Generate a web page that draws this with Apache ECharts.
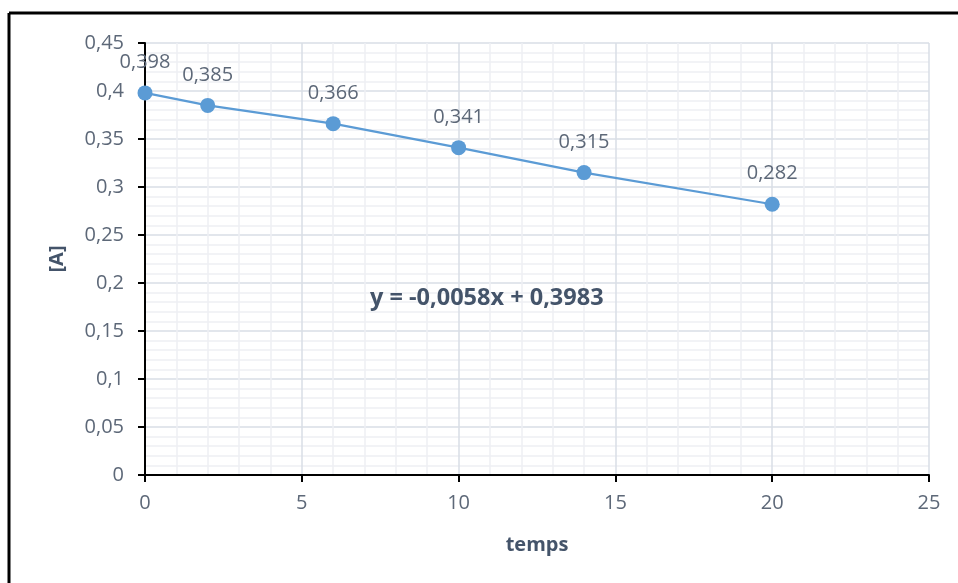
<!DOCTYPE html>
<html>
<head>
<meta charset="utf-8">
<script src="https://cdn.jsdelivr.net/npm/echarts@6/dist/echarts.min.js"></script>
<style>
html,body{margin:0;padding:0;background:#fff;}
#chart{width:958px;height:583px;}
</style>
</head>
<body>
<div id="chart"></div>
<script>
const xValues = [0, 2, 6, 10, 14, 20];
const yValues = [0.398, 0.385, 0.366, 0.341, 0.315, 0.282];
const pointLabels = ['0,398', '0,385', '0,366', '0,341', '0,315', '0,282'];
const equationText = 'y = -0,0058x + 0,3983';
const xAxisName = 'temps';
const yAxisName = '[A]';

const font = '"Open Sans", "Noto Sans", sans-serif';
const labelColor = '#5d6878';
const titleColor = '#44546a';
const fmt = v => String(Math.round(v * 1000) / 1000).replace('.', ',');

const chart = echarts.init(document.getElementById('chart'), null, {renderer: 'canvas'});
chart.setOption({
  animation: false,
  backgroundColor: '#ffffff',
  grid: {left: 145, right: 29, top: 43, bottom: 108, show: false},
  xAxis: {
    type: 'value', min: 0, max: 25, interval: 5,
    name: xAxisName, nameLocation: 'middle', nameGap: 60,
    nameTextStyle: {fontFamily: font, fontSize: 20, fontWeight: 'bold', color: titleColor},
    axisLine: {show: true, onZero: false, lineStyle: {color: '#000', width: 2}},
    axisTick: {show: true, length: 7, lineStyle: {color: '#000', width: 2}},
    axisLabel: {fontFamily: font, fontSize: 20, color: labelColor, margin: 18, formatter: fmt},
    splitLine: {show: true, lineStyle: {color: '#d9dee6', width: 1.5}},
    minorTick: {show: false, splitNumber: 5},
    minorSplitLine: {show: true, lineStyle: {color: '#eef0f4', width: 1.5}}
  },
  yAxis: {
    type: 'value', min: 0, max: 0.45, interval: 0.05,
    name: yAxisName, nameLocation: 'middle', nameGap: 78, nameRotate: 90,
    nameTextStyle: {fontFamily: font, fontSize: 20, fontWeight: 'bold', color: titleColor},
    axisLine: {show: true, onZero: false, lineStyle: {color: '#000', width: 2}},
    axisTick: {show: true, length: 7, lineStyle: {color: '#000', width: 2}},
    axisLabel: {fontFamily: font, fontSize: 20, color: labelColor, margin: 21, formatter: fmt},
    splitLine: {show: true, lineStyle: {color: '#d9dee6', width: 1.5}},
    minorTick: {show: false, splitNumber: 5},
    minorSplitLine: {show: true, lineStyle: {color: '#eef0f4', width: 1.5}}
  },
  series: [{
    type: 'line',
    data: xValues.map((x, i) => [x, yValues[i]]),
    symbol: 'circle', symbolSize: 15,
    itemStyle: {color: '#5b9bd5'},
    lineStyle: {color: '#5b9bd5', width: 2.2},
    label: {
      show: true, position: 'top', distance: 13,
      fontFamily: font, fontSize: 20, color: labelColor,
      formatter: p => pointLabels[p.dataIndex]
    },
    z: 5
  }],
  graphic: [
    {type: 'line', shape: {x1: 9, y1: 13, x2: 958, y2: 13}, style: {stroke: '#000', lineWidth: 3}},
    {type: 'line', shape: {x1: 9, y1: 13, x2: 9, y2: 583}, style: {stroke: '#000', lineWidth: 3}},
    {type: 'text', left: 370, top: 286, z: 10,
     style: {text: equationText, font: 'bold 23.5px ' + font, fill: titleColor}}
  ]
});
</script>
</body>
</html>
